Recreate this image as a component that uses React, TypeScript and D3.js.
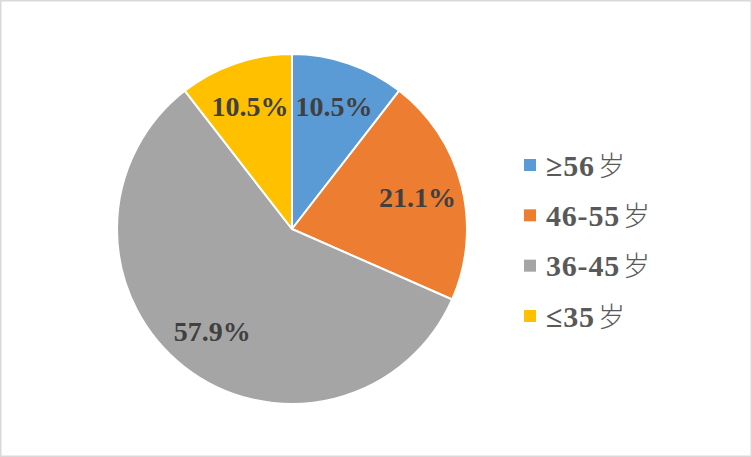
import * as d3 from 'd3'
import { useEffect, useRef } from 'react'

const categories = ['≥56', '46-55', '36-45', '≤35']
const shares = [10.5, 21.1, 57.9, 10.5]
const colors = ['#5B9BD5', '#ED7D31', '#A5A5A5', '#FFC000']
const suffix = '岁'

const W = 752
const H = 457

export default function App() {
  const svgRef = useRef<SVGSVGElement | null>(null)

  useEffect(() => {
    if (!svgRef.current)
      return
    document.body.style.margin = '0'

    const svg = d3.select(svgRef.current)
    svg.selectAll('*').remove()

    svg.append('rect')
      .attr('x', 0.75).attr('y', 0.75)
      .attr('width', W - 1.5).attr('height', H - 1.5)
      .attr('fill', '#fff')
      .attr('stroke', '#d9d9d9')
      .attr('stroke-width', 1.5)

    const cx = 292
    const cy = 229
    const r = 175

    const pie = d3.pie<number>().sort(null).value(d => d)
    const arcs = pie(shares)
    const arc = d3.arc<d3.PieArcDatum<number>>().innerRadius(0).outerRadius(r)
    const labelArc = d3.arc<d3.PieArcDatum<number>>().innerRadius(r * 0.74).outerRadius(r * 0.74)

    const g = svg.append('g').attr('transform', `translate(${cx},${cy})`)

    g.selectAll('path')
      .data(arcs)
      .enter()
      .append('path')
      .attr('d', arc)
      .attr('fill', (_, i) => colors[i])
      .attr('stroke', '#fff')
      .attr('stroke-width', 2)
      .attr('stroke-linejoin', 'round')

    g.selectAll('text.lbl')
      .data(arcs)
      .enter()
      .append('text')
      .attr('class', 'lbl')
      .attr('transform', d => `translate(${labelArc.centroid(d)})`)
      .attr('text-anchor', 'middle')
      .attr('dy', '0.35em')
      .attr('font-family', '"Liberation Serif", "Times New Roman", serif')
      .attr('font-weight', 'bold')
      .attr('font-size', 28)
      .attr('fill', '#404040')
      .text(d => `${d.data.toFixed(1)}%`)

    const legend = svg.append('g').attr('transform', 'translate(524,165)')
    const y = d3.scalePoint<number>().domain(d3.range(categories.length)).range([0, 151])

    const item = legend.selectAll('g')
      .data(categories)
      .enter()
      .append('g')
      .attr('transform', (_, i) => `translate(0,${y(i)})`)

    item.append('rect')
      .attr('x', 0).attr('y', -6)
      .attr('width', 12).attr('height', 12)
      .attr('fill', (_, i) => colors[i])

    const t = item.append('text')
      .attr('x', 22)
      .attr('dy', '0.35em')
      .attr('fill', '#595959')
      .attr('font-size', 30)

    t.append('tspan')
      .attr('font-family', '"Liberation Serif", "Times New Roman", serif')
      .attr('font-weight', 'bold')
      .attr('letter-spacing', 0.8)
      .text(d => d)
    t.append('tspan')
      .attr('dx', 3)
      .attr('font-family', '"Noto Sans CJK SC", sans-serif')
      .attr('font-weight', 300)
      .attr('font-size', 27)
      .text(suffix)
  }, [])

  return (
    <div>
      <svg ref={svgRef} width={W} height={H} style={{ display: 'block' }}></svg>
    </div>
  )
}
